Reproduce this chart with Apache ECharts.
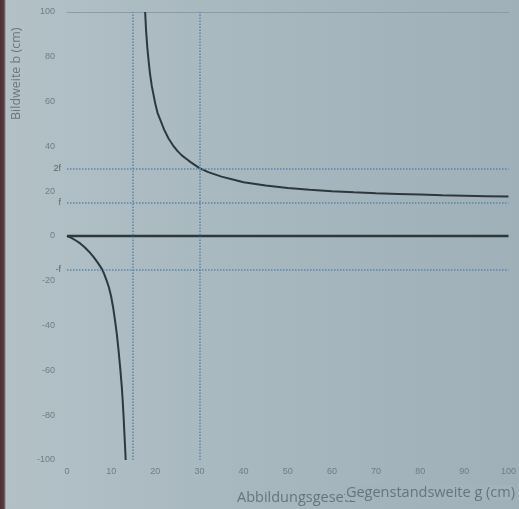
<!DOCTYPE html>
<html><head><meta charset="utf-8">
<script src="https://cdn.jsdelivr.net/npm/echarts@6/dist/echarts.min.js"></script>
<style>
html,body{margin:0;padding:0;}
body{width:519px;height:509px;background:linear-gradient(to right,#4a3236 0,#5a3c40 4px,#b3c1c7 6px,#a8b8bf 45%,#9fb0b9 100%);}
#c{width:519px;height:509px;}
</style></head>
<body><div id="c"></div>
<script>
// ---- data ----
const xTicks = [0,10,20,30,40,50,60,70,80,90,100];
const yTicks = [-100,-80,-60,-40,-20,0,20,40,60,80,100];
// upper branch (g > f)
const upperG = [17.7,17.9,18.2,18.5,18.8,19.2,19.6,20,20.5,21,21.5,22,23,24,25,26,27,28,30,32,35,38,40,45,50,55,60,65,70,75,80,85,90,95,100];
const upperB = [100,92,84,78,72.5,67,63,59,55,52.5,50,47.5,43.5,40.5,38,36,34.5,33,30.3,28.5,26.5,25,24,22.5,21.4,20.6,20,19.5,19.1,18.8,18.5,18.2,18,17.8,17.6];
// lower branch (g < f)
const lowerG = [0,1,2,3,4,5,6,7,8,8.5,9,9.5,10,10.5,10.9,11.3,11.7,12.1,12.4,12.6,12.8,13,13.15,13.3];
const lowerB = [0,-0.8,-2,-3.3,-5,-7,-9.3,-12,-15,-17.4,-20,-23,-27,-32.5,-38,-44,-51.5,-60,-67,-73,-80,-88,-94,-100];
// b = 0 line
const zeroG = [0,100];
const zeroB = [0,0];
// reference lines
const hRefValues = [30,15,-15];
const hRefLabels = ['2f','f','-f'];
const vRefValues = [15,30];
const titleText = 'Abbildungsgesetz';
const xName = 'Gegenstandsweite g (cm)';
const yName = 'Bildweite b (cm)';

const pairs = (a,b)=>a.map((v,i)=>[v,b[i]]);
const tickColor = '#6f7d84';
const refColor = '#5a84aa';

const chart = echarts.init(document.getElementById('c'), null, {renderer:'canvas'});
chart.setOption({
  backgroundColor:'transparent',
  animation:false,
  grid:{left:67,right:6,top:12,bottom:49},
  xAxis:[{
    type:'value',min:0,max:100,interval:10,
    axisLine:{show:true,lineStyle:{color:'#8d9ca3',width:1}},
    axisTick:{show:false},
    splitLine:{show:false},
    axisLabel:{color:tickColor,fontSize:9,fontFamily:'Liberation Sans',margin:7,
      formatter:v=>xTicks.includes(v)?String(v):''}
  },{
    type:'value',min:0,max:100,position:'top',
    axisLine:{show:true,lineStyle:{color:'#8d9ca3',width:1}},
    axisTick:{show:false},axisLabel:{show:false},splitLine:{show:false}
  }],
  yAxis:{
    type:'value',min:-100,max:100,interval:20,
    axisLine:{show:false},axisTick:{show:false},
    splitLine:{show:false},
    axisLabel:{color:tickColor,fontSize:9,fontFamily:'Liberation Sans',margin:12,
      formatter:v=>yTicks.includes(v)?String(v):''}
  },
  series:[
    {type:'line',data:pairs(zeroG,zeroB),symbol:'none',
     lineStyle:{color:'#2c383e',width:2.5},z:3,
     markLine:{silent:true,symbol:'none',
       lineStyle:{color:refColor,type:'dotted',width:1.5},
       label:{show:true,position:'start',distance:6,color:'#56646b',fontSize:9,fontFamily:'Liberation Sans',
         formatter:p=>p.name},
       data:hRefValues.map((v,i)=>({yAxis:v,name:hRefLabels[i]}))
     }},
    {type:'line',data:pairs(upperG,upperB),symbol:'none',smooth:false,
     lineStyle:{color:'#2c383e',width:2},z:4,
     markLine:{silent:true,symbol:'none',
       lineStyle:{color:refColor,type:'dotted',width:1.5},
       label:{show:false},
       data:vRefValues.map(v=>({xAxis:v}))
     }},
    {type:'line',data:pairs(lowerG,lowerB),symbol:'none',smooth:false,
     lineStyle:{color:'#2c383e',width:2},z:4}
  ],
  graphic:[
    {type:'text',left:237,top:490,z:10,
     style:{text:titleText,fill:'#66757c',fontSize:14.5,fontFamily:'Open Sans'}},
    {type:'text',right:4,top:485,z:11,
     style:{text:xName,fill:'#66757c',fontSize:14.5,fontFamily:'Open Sans',
       backgroundColor:'#a2b3bb',padding:[0,0,0,1]}},
    {type:'text',x:10,y:120,rotation:Math.PI/2,z:10,
     style:{text:yName,fill:'#6a767c',fontSize:12.5,fontFamily:'Open Sans'}}
  ]
});
</script>
</body></html>
